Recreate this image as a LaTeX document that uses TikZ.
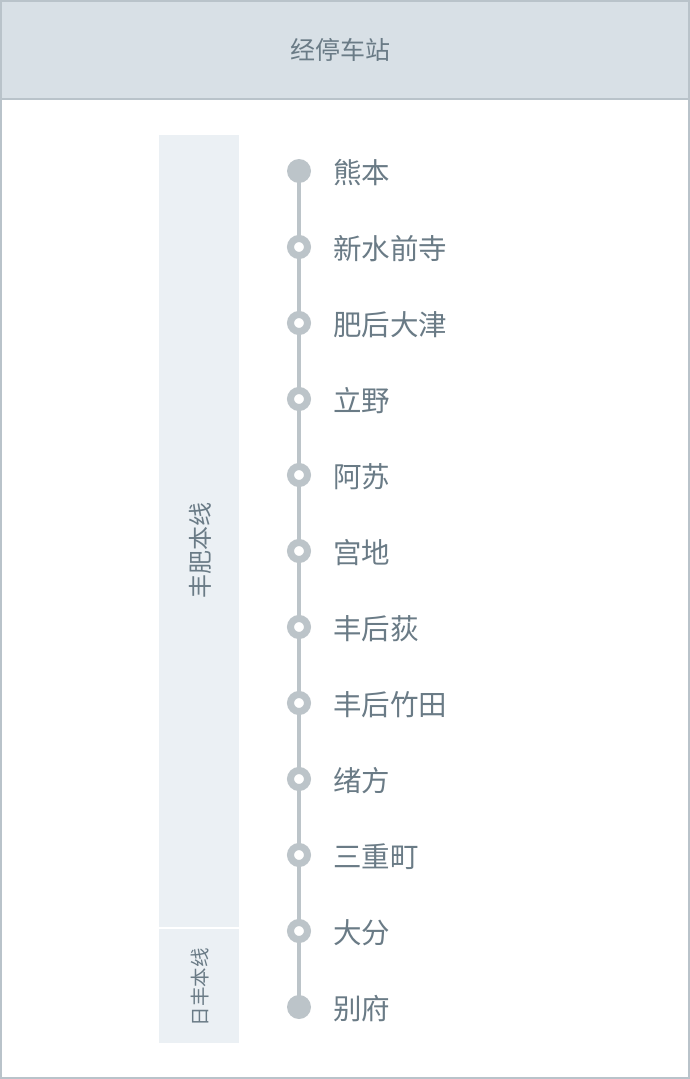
\documentclass[tikz,border=0pt]{standalone}
\usepackage{fontspec}
\setmainfont{Noto Sans CJK SC}
\definecolor{frameC}{HTML}{B9C3CA}
\definecolor{headC}{HTML}{D8E0E6}
\definecolor{barC}{HTML}{EBF0F4}
\definecolor{dotC}{HTML}{BCC4C9}
\definecolor{txtC}{HTML}{6A7B86}
\tikzset{
  endstop/.style={circle, fill=dotC, minimum size=24pt, inner sep=0pt},
  midstop/.style={circle, fill=white, draw=dotC, line width=7pt, minimum size=17pt, inner sep=0pt},
  stlabel/.style={anchor=west, text=txtC, font=\fontsize{28.5}{32}\selectfont, inner sep=0pt},
  linelabel/.style={text=txtC, rotate=90, inner sep=0pt},
}
\begin{document}
\begin{tikzpicture}[x=1pt,y=-1pt]
\useasboundingbox (0,0) rectangle (690,1079);
\fill[white] (0,0) rectangle (690,1079);
% header
\fill[headC] (0,0) rectangle (690,99);
\draw[frameC, line width=2pt] (0,99) -- (690,99);
\node[text=txtC, font=\fontsize{25}{30}\selectfont, inner sep=0pt] (title) at (340,50) {经停车站};
% line bars
\fill[barC] (159,135) rectangle (239,927);
\fill[barC] (159,929) rectangle (239,1043);
\node[linelabel, font=\fontsize{24}{28}\selectfont] (l1) at (200,550) {丰肥本线};
\node[linelabel, font=\fontsize{19.5}{24}\selectfont] (l2) at (200,987) {日丰本线};
% track
\coordinate (s1) at (299,171);
\coordinate (s12) at (299,1007);
\draw[dotC, line width=4pt] (s1) -- (s12);
\foreach \i/\name in {1/熊本,2/新水前寺,3/肥后大津,4/立野,5/阿苏,6/宫地,7/丰后荻,8/丰后竹田,9/绪方,10/三重町,11/大分,12/别府}{
  \pgfmathsetmacro{\yy}{171+76*(\i-1)}
  \ifnum\i=1
    \node[endstop] (st\i) at (299,\yy) {};
  \else\ifnum\i=12
    \node[endstop] (st\i) at (299,\yy) {};
  \else
    \node[midstop] (st\i) at (299,\yy) {};
  \fi\fi
  \node[stlabel] (lab\i) at (333,\yy+2) {\name};
}
% outer frame
\draw[frameC, line width=2pt] (1,1) rectangle (689,1078);
\end{tikzpicture}
\end{document}
